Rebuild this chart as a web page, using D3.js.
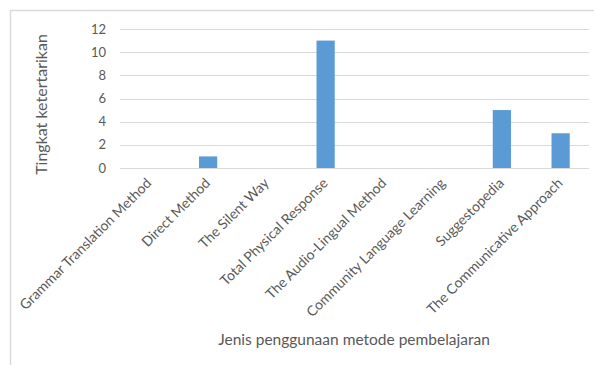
<!DOCTYPE html>
<html>
<head>
<meta charset="utf-8">
<script src="https://cdn.jsdelivr.net/npm/d3@7"></script>
<style>
  body { margin: 0; background: #fff; }
  svg text { font-family: Lato, "Open Sans", sans-serif; fill: #595959; }
</style>
</head>
<body>
<div id="chart"></div>
<script>
const categories = [
    "Grammar Translation Method",
    "Direct Method",
    "The Silent Way",
    "Total Physical Response",
    "The Audio-Lingual Method",
    "Community Language Learning",
    "Suggestopedia",
    "The Communicative Approach"
];
const values = [0, 1, 0, 11, 0, 0, 5, 3];
const yTicks = [0, 2, 4, 6, 8, 10, 12];

const width = 594, height = 365;
const margin = { left: 120, right: 4, top: 29, bottom: 197 };

const svg = d3.select("#chart").append("svg")
    .attr("width", width)
    .attr("height", height);

// outer frame (only top and left visible, the rest is cropped)
svg.append("path")
    .attr("d", `M10.5,${height} V10.5 H${width}`)
    .attr("fill", "none")
    .attr("stroke", "#d9d9d9")
    .attr("stroke-width", 1.5);

const x = d3.scaleBand()
    .domain(categories)
    .range([margin.left, width - margin.right])
    .paddingInner(0.69)
    .paddingOuter(0.345);

const y = d3.scaleLinear()
    .domain([0, 12])
    .range([height - margin.bottom, margin.top]);

// gridlines
svg.append("g")
    .selectAll("line")
    .data(yTicks)
    .enter().append("line")
    .attr("x1", margin.left)
    .attr("x2", width - margin.right - 1)
    .attr("y1", d => Math.round(y(d)) + 0.5)
    .attr("y2", d => Math.round(y(d)) + 0.5)
    .attr("stroke", "#d9d9d9")
    .attr("stroke-width", 1);

// y tick labels
svg.append("g")
    .selectAll("text")
    .data(yTicks)
    .enter().append("text")
    .attr("x", 106)
    .attr("y", d => y(d))
    .attr("dy", "0.35em")
    .attr("text-anchor", "end")
    .style("font-size", "13px")
    .text(d => d);

// bars
svg.append("g")
    .selectAll("rect")
    .data(values)
    .enter().append("rect")
    .attr("x", (d, i) => x(categories[i]))
    .attr("width", x.bandwidth())
    .attr("y", d => y(d))
    .attr("height", d => y(0) - y(d))
    .attr("fill", "#5b9bd5");

// x tick labels, rotated 45deg
svg.append("g")
    .selectAll("text")
    .data(categories)
    .enter().append("text")
    .attr("transform", d => `translate(${x(d) + x.bandwidth() / 2 + 3},${y(0) + 16}) rotate(-45)`)
    .attr("text-anchor", "end")
    .style("font-size", "14px")
    .text(d => d);

// axis titles
svg.append("text")
    .attr("transform", `translate(47,${(margin.top + y(0)) / 2 + 6}) rotate(-90)`)
    .attr("text-anchor", "middle")
    .style("font-size", "16px")
    .text("Tingkat ketertarikan");

svg.append("text")
    .attr("x", 354)
    .attr("y", 345)
    .attr("text-anchor", "middle")
    .style("font-size", "15.5px")
    .text("Jenis penggunaan metode pembelajaran");
</script>
</body>
</html>
